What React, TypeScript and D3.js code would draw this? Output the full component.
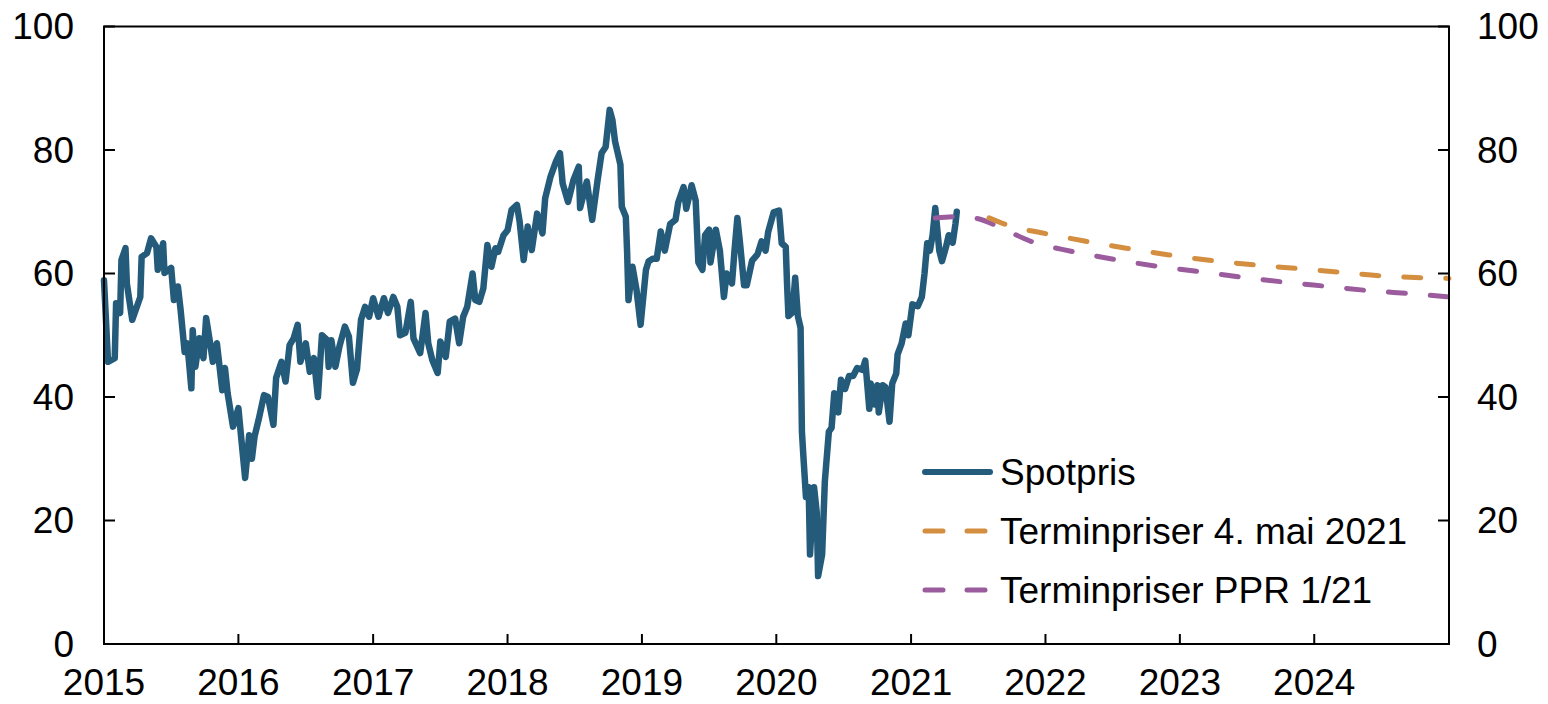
import * as React from "react";
import { scaleTime, scaleLinear, line, curveMonotoneX } from "d3";

// Spot price, [decimal year, USD per barrel]
const spot: [number, number][] = [
  [2015.00, 58.9], [2015.03, 45.7], [2015.08, 46.3], [2015.09, 55.2], [2015.12, 53.6], [2015.13, 62.2],
  [2015.16, 64.1], [2015.17, 58.4], [2015.21, 52.5], [2015.27, 56.2], [2015.28, 62.7], [2015.32, 63.3],
  [2015.35, 65.7], [2015.39, 64.3], [2015.40, 60.6], [2015.44, 64.9], [2015.45, 60.1], [2015.50, 60.9],
  [2015.52, 55.7], [2015.55, 57.9], [2015.57, 54.1], [2015.60, 47.3], [2015.62, 48.7], [2015.65, 41.4],
  [2015.66, 50.8], [2015.68, 44.9], [2015.71, 49.5], [2015.74, 46.3], [2015.76, 52.8], [2015.79, 48.7],
  [2015.81, 45.7], [2015.84, 48.7], [2015.88, 41.1], [2015.90, 44.7], [2015.92, 40.6], [2015.96, 35.2],
  [2016.00, 38.2], [2016.02, 33.6], [2016.05, 26.9], [2016.08, 33.8], [2016.10, 30.0], [2016.12, 33.6],
  [2016.15, 36.3], [2016.19, 40.3], [2016.22, 40.0], [2016.26, 35.5], [2016.28, 43.1], [2016.32, 45.7],
  [2016.35, 42.5], [2016.38, 48.4], [2016.41, 49.5], [2016.44, 51.7], [2016.46, 45.7], [2016.50, 48.7],
  [2016.53, 44.1], [2016.56, 46.3], [2016.59, 40.0], [2016.62, 50.0], [2016.66, 49.2], [2016.67, 44.9],
  [2016.69, 49.2], [2016.72, 44.9], [2016.75, 48.2], [2016.79, 51.4], [2016.82, 49.8], [2016.85, 42.3],
  [2016.88, 44.5], [2016.91, 52.5], [2016.94, 54.6], [2016.97, 53.0], [2017.00, 56.0], [2017.04, 53.0],
  [2017.08, 56.0], [2017.11, 53.6], [2017.15, 56.2], [2017.18, 54.6], [2017.20, 50.0], [2017.24, 50.4],
  [2017.28, 55.4], [2017.30, 49.5], [2017.35, 47.1], [2017.39, 53.6], [2017.41, 48.7], [2017.44, 46.0],
  [2017.48, 43.9], [2017.50, 49.0], [2017.54, 46.5], [2017.57, 52.2], [2017.61, 52.7], [2017.64, 48.7],
  [2017.67, 53.0], [2017.70, 54.6], [2017.74, 60.0], [2017.76, 55.7], [2017.79, 55.4], [2017.82, 57.6],
  [2017.85, 64.6], [2017.88, 61.1], [2017.91, 64.1], [2017.93, 63.5], [2017.97, 66.2], [2018.00, 67.0],
  [2018.03, 70.3], [2018.07, 71.1], [2018.09, 68.4], [2018.12, 62.2], [2018.15, 67.6], [2018.18, 63.8],
  [2018.22, 69.7], [2018.26, 66.5], [2018.28, 72.2], [2018.32, 75.7], [2018.36, 78.1], [2018.39, 79.5],
  [2018.41, 74.6], [2018.45, 71.6], [2018.49, 75.1], [2018.53, 77.3], [2018.54, 70.6], [2018.59, 74.9],
  [2018.63, 68.7], [2018.67, 75.1], [2018.70, 79.5], [2018.73, 80.5], [2018.76, 86.5], [2018.78, 84.9],
  [2018.80, 81.4], [2018.84, 77.6], [2018.85, 70.8], [2018.88, 69.2], [2018.89, 63.3], [2018.90, 55.7],
  [2018.93, 61.1], [2018.96, 57.3], [2018.99, 51.7], [2019.03, 60.6], [2019.05, 62.0], [2019.08, 62.4],
  [2019.11, 62.4], [2019.14, 66.8], [2019.17, 63.7], [2019.21, 68.0], [2019.25, 68.7], [2019.27, 71.5],
  [2019.31, 74.0], [2019.33, 70.5], [2019.37, 74.3], [2019.40, 71.8], [2019.42, 61.8], [2019.45, 60.6],
  [2019.47, 66.2], [2019.50, 67.1], [2019.51, 61.8], [2019.55, 67.1], [2019.58, 63.7], [2019.61, 56.2],
  [2019.63, 60.0], [2019.67, 58.4], [2019.69, 64.0], [2019.71, 69.0], [2019.73, 64.9], [2019.76, 58.1],
  [2019.78, 58.1], [2019.82, 62.1], [2019.86, 63.1], [2019.89, 65.2], [2019.92, 63.7], [2019.94, 66.8],
  [2019.98, 69.9], [2020.02, 70.2], [2020.04, 64.9], [2020.07, 64.3], [2020.08, 58.1], [2020.09, 53.1],
  [2020.12, 53.7], [2020.14, 59.3], [2020.16, 53.1], [2020.18, 51.2], [2020.19, 34.4], [2020.20, 30.7],
  [2020.22, 23.8], [2020.24, 25.4], [2020.25, 14.5], [2020.28, 25.4], [2020.30, 21.3], [2020.31, 11.0],
  [2020.34, 14.5], [2020.36, 26.3], [2020.39, 34.4], [2020.41, 35.0], [2020.43, 40.6], [2020.46, 37.5],
  [2020.48, 42.8], [2020.51, 41.3], [2020.54, 43.4], [2020.57, 43.4], [2020.60, 44.7], [2020.64, 44.4],
  [2020.66, 45.9], [2020.69, 38.1], [2020.70, 42.2], [2020.73, 38.8], [2020.75, 41.9], [2020.76, 37.5],
  [2020.79, 41.9], [2020.81, 41.6], [2020.84, 36.0], [2020.86, 42.2], [2020.89, 43.8], [2020.90, 46.9],
  [2020.93, 48.7], [2020.96, 51.9], [2020.98, 50.0], [2021.01, 55.0], [2021.05, 54.7], [2021.08, 56.2],
  [2021.10, 60.0], [2021.12, 64.9], [2021.14, 63.7], [2021.16, 66.2], [2021.18, 70.6], [2021.21, 63.7],
  [2021.23, 62.0], [2021.26, 64.3], [2021.28, 66.2], [2021.31, 65.0], [2021.33, 68.0], [2021.34, 70.0],
];

// Forward prices 4 May 2021
const forwardMay: [number, number][] = [
  [2021.58, 69.0], [2021.75, 67.6], [2021.97, 66.6], [2022.28, 65.3], [2022.60, 64.1], [2022.92, 63.0],
  [2023.24, 62.1], [2023.55, 61.4], [2023.88, 60.8], [2024.20, 60.2], [2024.51, 59.6], [2024.83, 59.3],
  [2025.00, 59.2],
];

// Forward prices PPR 1/21
const forwardPpr: [number, number][] = [
  [2021.18, 69.0], [2021.34, 69.2], [2021.49, 68.9], [2021.66, 67.5], [2021.88, 65.3], [2022.19, 63.6],
  [2022.51, 62.3], [2022.82, 61.2], [2023.15, 60.3], [2023.46, 59.4], [2023.78, 58.6], [2024.10, 57.9],
  [2024.42, 57.2], [2024.74, 56.7], [2025.00, 56.2],
];

const yearTicks = [2015, 2016, 2017, 2018, 2019, 2020, 2021, 2022, 2023, 2024, 2025];
const valueTicks = [0, 20, 40, 60, 80, 100];
const legendLabels = ["Spotpris", "Terminpriser 4. mai 2021", "Terminpriser PPR 1/21"];

const BLUE = "#245b7b";
const ORANGE = "#d48e40";
const PURPLE = "#9b5c9e";

const toDate = (t: number) => {
  const y = Math.floor(t);
  const a = new Date(y, 0, 1).getTime();
  const b = new Date(y + 1, 0, 1).getTime();
  return new Date(a + (t - y) * (b - a));
};

const App: React.FC = () => {
  const width = 1548, height = 704;
  const left = 104, right = 1449, top = 26.5, bottom = 644;
  const font = "'Liberation Sans', Arial, sans-serif";
  const fs = 37;

  const x = scaleTime().domain([new Date(2015, 0, 1), new Date(2025, 0, 1)]).range([left, right]);
  const y = scaleLinear().domain([0, 100]).range([bottom, top]);

  const spotLine = line<[number, number]>()
    .x(d => x(toDate(d[0])))
    .y(d => y(d[1]));
  const fwdLine = line<[number, number]>()
    .x(d => x(toDate(d[0])))
    .y(d => y(d[1]))
    .curve(curveMonotoneX);

  const legendColors = [BLUE, ORANGE, PURPLE];
  const legendY = [472, 531, 590];

  return (
    <svg width={width} height={height} style={{ position: "absolute", left: 0, top: 0, background: "#fff" }}>
      <path d={spotLine(spot) || ""} fill="none" stroke={BLUE} strokeWidth={6.5} strokeLinejoin="round" strokeLinecap="round" />
      <path d={fwdLine(forwardPpr) || ""} fill="none" stroke={PURPLE} strokeWidth={5} strokeLinecap="round" strokeDasharray="17,25" />
      <path d={fwdLine(forwardMay) || ""} fill="none" stroke={ORANGE} strokeWidth={5} strokeLinecap="round" strokeDasharray="17,25" />

      {/* frame */}
      <rect x={left} y={top} width={right - left} height={bottom - top} fill="none" stroke="#000" strokeWidth={2} />

      {valueTicks.map(v => (
        <g key={"v" + v}>
          <line x1={left} x2={left + 11} y1={y(v)} y2={y(v)} stroke="#000" strokeWidth={2} />
          <line x1={right - 11} x2={right} y1={y(v)} y2={y(v)} stroke="#000" strokeWidth={2} />
          <text x={left - 30} y={y(v)} dy="0.35em" textAnchor="end" fontFamily={font} fontSize={fs}>{v}</text>
          <text x={right + 28} y={y(v)} dy="0.35em" textAnchor="start" fontFamily={font} fontSize={fs}>{v}</text>
        </g>
      ))}

      {yearTicks.map(yr => {
        const px = x(new Date(yr, 0, 1));
        return (
          <g key={"y" + yr}>
            <line x1={px} x2={px} y1={bottom} y2={bottom - 10} stroke="#000" strokeWidth={2} />
            {yr < 2025 && (
              <text x={px} y={695} textAnchor="middle" fontFamily={font} fontSize={fs}>{yr}</text>
            )}
          </g>
        );
      })}

      {legendLabels.map((label, i) => (
        <g key={label}>
          <line x1={925} x2={990} y1={legendY[i]} y2={legendY[i]} stroke={legendColors[i]}
            strokeWidth={i === 0 ? 6 : 5} strokeLinecap="round"
            strokeDasharray={i === 0 ? undefined : "18,24"} />
          <text x={1000} y={legendY[i]} dy="0.35em" fontFamily={font} fontSize={fs}>{label}</text>
        </g>
      ))}
    </svg>
  );
};

export default App;
